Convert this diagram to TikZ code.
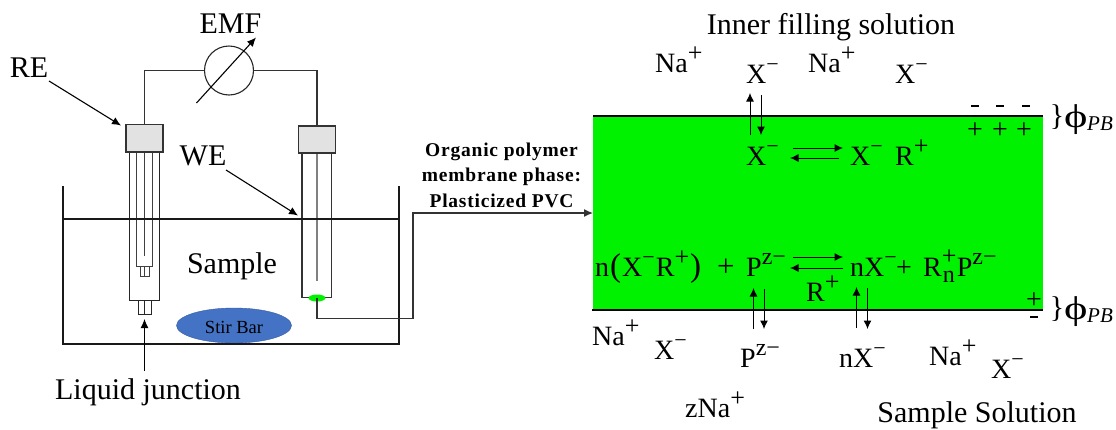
\documentclass[tikz,border=0pt]{standalone}
\usepackage{fontspec}
\setmainfont{Liberation Serif}
\usetikzlibrary{arrows.meta,shapes.geometric}
\definecolor{memgreen}{HTML}{00F200}
\definecolor{capgray}{HTML}{E2E2E2}
\definecolor{stirblue}{HTML}{4472C4}
\newcommand{\up}[1]{\raisebox{0.42em}{\fontsize{24}{24}\selectfont #1}}
\newcommand{\plusup}{\raisebox{0.36em}{\fontsize{26}{26}\selectfont +}}
\newcommand{\minusup}{\raisebox{0.42em}{\fontsize{22}{22}\selectfont −}}
\newcommand{\bigparen}[1]{{\fontsize{33}{33}\selectfont #1}}
\newcommand{\widephi}{\scalebox{1.35}[1]{ϕ}}
\tikzset{
  x=1pt,y=-1pt,
  lab/.style={inner sep=0pt,font=\fontsize{30}{32}\selectfont},
  ion/.style={inner sep=0pt,anchor=base west,font=\fontsize{28}{30}\selectfont},
  wire/.style={draw=black!80,line width=1.3pt},
  thin wire/.style={draw=black!75,line width=0.9pt},
  tube/.style={draw=black!85,line width=1.1pt},
  callout/.style={draw=black,line width=1.1pt,-{Latex[length=9pt,width=8pt]}},
  flux/.style={draw=black,line width=1pt,-{Latex[length=8.5pt,width=8pt]}},
  capbox/.style={draw=black!80,line width=1.2pt,fill=capgray},
  signdash/.style={inner sep=0pt,fill=black,minimum width=8pt,minimum height=2pt},
  signplus/.style={inner sep=0pt,font=\fontsize{28}{28}\selectfont},
  bracelab/.style={inner sep=0pt,font=\fontsize{30}{30}\selectfont},
  philab/.style={ion,font=\fontsize{33}{33}\selectfont},
  pblab/.style={ion,font=\fontsize{21}{21}\selectfont\itshape},
}
\begin{document}
\begin{tikzpicture}
\useasboundingbox (0,0) rectangle (1116,429);
% membrane
\path[fill=memgreen] (593,116) rectangle (1043,310);
\coordinate (mtl) at (593,116); \coordinate (mtr) at (1043,116);
\coordinate (mbl) at (592,310); \coordinate (mbr) at (1043,310);
\draw[line width=1.2pt] (mtl) -- (mtr);
\draw[line width=1.2pt] (mbl) -- (mbr);
% beaker
\coordinate (btl) at (63,186); \coordinate (bbl) at (63,344);
\coordinate (bbr) at (399,344); \coordinate (btr) at (399,186);
\coordinate (wl) at (63,219); \coordinate (wr) at (399,219);
\node[draw=stirblue!80!black,line width=0.4pt,fill=stirblue,minimum width=115pt,minimum height=35pt,inner sep=0pt,shape=ellipse] (stir) at (234,325.5) {};
\node[inner sep=0pt,font=\fontsize{18.5}{20}\selectfont] (stirtext) at (234,327) {Stir Bar};
% RE electrode
\draw[thin wire] (136.3,152) -- (136.3,266.3) -- (152.3,266.3) -- (152.3,152);
\draw[thin wire] (144.3,152) -- (144.3,256);
\draw[thin wire] (140,266.3) rectangle (149,276);
\draw[thin wire] (144.5,266.3) -- (144.5,276);
\draw[tube] (129.5,152) -- (129.5,300.3) -- (159.5,300.3) -- (159.5,152);
\draw[tube] (138.7,300.3) rectangle (151.3,314.3);
\draw[tube] (144.7,300.3) -- (144.7,314.3);
\node[capbox,minimum width=37pt,minimum height=27.5pt,inner sep=0pt] (recap) at (144.5,138.3) {};
% WE electrode
\draw[draw=black!50,line width=1.2pt] (317,153) -- (317,281);
\draw[wire] (302,153) -- (302,297.7) -- (331.7,297.7) -- (331.7,153);
\node[capbox,minimum width=37pt,minimum height=27pt,inner sep=0pt] (wecap) at (317,139.5) {};
\node[fill=memgreen,draw=none,minimum width=17pt,minimum height=7pt,inner sep=0pt,shape=ellipse] (wetip) at (317,298) {};
% beaker lines over electrodes
\draw[line width=1.1pt,draw=black!90] (btl) -- (bbl) -- (bbr) -- (btr);
\draw[line width=1.1pt,draw=black!90] (wl) -- (wr);
% EMF
\node[draw=black!85,line width=1.1pt,shape=circle,minimum size=49pt,inner sep=0pt] (emf) at (229,70.5) {};
\draw[wire] (recap.north) -- (recap.north |- emf.west) -- (emf.west);
\draw[wire] (emf.east) -- (wecap.north |- emf.east) -- (wecap.north);
\coordinate (gs) at (196.5,103); \coordinate (ge) at (256,37.5);
\draw[callout] (gs) -- (ge);
% callouts
\node[lab] (emflab) at (230.5,24) {EMF};
\node[lab] (relab) at (29,68) {RE};
\node[lab] (welab) at (203,156) {WE};
\node[lab] (samplelab) at (232,266) {Sample};
\node[lab] (ljlab) at (148,392) {Liquid junction};
\coordinate (rea) at (49,81); \coordinate (reb) at (121,125.5);
\coordinate (wea) at (226,170); \coordinate (web) at (298,215.5);
\coordinate (lja) at (144.5,371); \coordinate (ljb) at (144.5,319);
\draw[callout] (rea) -- (reb);
\draw[callout] (wea) -- (web);
\draw[callout] (lja) -- (ljb);
% lead to membrane
\coordinate (bendA) at (317,318.7); \coordinate (bendB) at (413,318.7);
\coordinate (bendC) at (413,213); \coordinate (memin) at (593,213);
\draw[wire,-{Latex[length=9pt,width=8pt]}] (wetip.center) -- (bendA) -- (bendB) -- (bendC) -- (memin);
\node[inner sep=0pt,align=center,font=\fontsize{19.5}{25.5}\selectfont\bfseries\addfontfeature{LetterSpace=4}] (orglab) at (501.5,175) {Organic polymer\\membrane phase:\\Plasticized PVC};
% top solution
\node[lab] (inner) at (831,27) {Inner filling solution};
\node[ion] (na1) at (655,72) {Na\plusup};
\node[ion] (x1) at (746,83) {X\minusup};
\node[ion] (na2) at (808,72) {Na\plusup};
\node[ion] (x2) at (895,83) {X\minusup};
\coordinate (u1a) at (750,135); \coordinate (u1b) at (750,93);
\coordinate (d1a) at (761,95); \coordinate (d1b) at (761,135);
\draw[flux] (u1a) -- (u1b);
\draw[flux] (d1a) -- (d1b);
\node[ion] (x3) at (746,165) {X\minusup};
\node[ion] (x4) at (850,165) {X\minusup};
\node[ion] (r1) at (895,165) {R\plusup};
\coordinate (e1a) at (793,148); \coordinate (e1b) at (843,148);
\coordinate (e2a) at (839,158); \coordinate (e2b) at (790,158);
\draw[flux] (e1a) -- (e1b);
\draw[flux] (e2a) -- (e2b);
% double layer signs
\foreach \n/\xx in {a/975,b/1000,c/1026}{\node[signdash] (dash\n) at (\xx,105.7) {};}
\foreach \n/\xx in {a/975,b/1000,c/1024}{\node[signplus] (plus\n) at (\xx,130.5) {+};}
\node[bracelab] (brace1) at (1057,117) {\}};
\node[philab] (phi1) at (1064,127) {\widephi};
\node[pblab] (pb1) at (1087,130) {PB};
\node[signplus] (plusd) at (1034,300.5) {+};
\node[signdash] (dashd) at (1034,317) {};
\node[bracelab] (brace2) at (1057,309) {\}};
\node[philab] (phi2) at (1064,319) {\widephi};
\node[pblab] (pb2) at (1087,322) {PB};
% reaction line
\node[ion] (rxa) at (595,276) {n\kern1pt\bigparen{(}\kern1pt X\minusup\kern1pt R\plusup\kern1pt\bigparen{)}};
\node[ion,font=\fontsize{31}{31}\selectfont] (rxb) at (717,276) {+};
\node[ion] (rxc) at (746,276) {P\up{z−}};
\coordinate (e3a) at (793,257); \coordinate (e3b) at (843,257);
\coordinate (e4a) at (843,268); \coordinate (e4b) at (790,268);
\draw[flux] (e3a) -- (e3b);
\draw[flux] (e4a) -- (e4b);
\node[ion] (rxd) at (850,276) {nX\minusup};
\node[ion] (rxe) at (896,276) {+};
\node[ion] (rxf) at (923,276) {R\raisebox{0.42em}{\rlap{\fontsize{26}{26}\selectfont +}}\raisebox{-0.22em}{\fontsize{24}{24}\selectfont\kern1pt n\kern2pt}P\up{z−}};
\node[ion] (rp) at (806,301) {R\plusup};
\coordinate (u2a) at (753.5,329); \coordinate (u2b) at (753.5,288);
\coordinate (d2a) at (764,289); \coordinate (d2b) at (764,329);
\coordinate (u3a) at (856.5,328); \coordinate (u3b) at (856.5,287);
\coordinate (d3a) at (867.5,288); \coordinate (d3b) at (867.5,329);
\draw[flux] (u2a) -- (u2b);
\draw[flux] (d2a) -- (d2b);
\draw[flux] (u3a) -- (u3b);
\draw[flux] (d3a) -- (d3b);
% bottom solution
\node[ion] (na3) at (592,345) {Na\plusup};
\node[ion] (x5) at (654,359) {X\minusup};
\node[ion] (p1) at (740,367) {P\up{z−}};
\node[ion] (nx) at (839,367) {nX\minusup};
\node[ion] (na4) at (929,365) {Na\plusup};
\node[ion] (x6) at (991,378) {X\minusup};
\node[ion] (zna) at (685,417) {zNa\plusup};
\node[lab] (ss) at (977,415) {Sample Solution};
\end{tikzpicture}
\end{document}
